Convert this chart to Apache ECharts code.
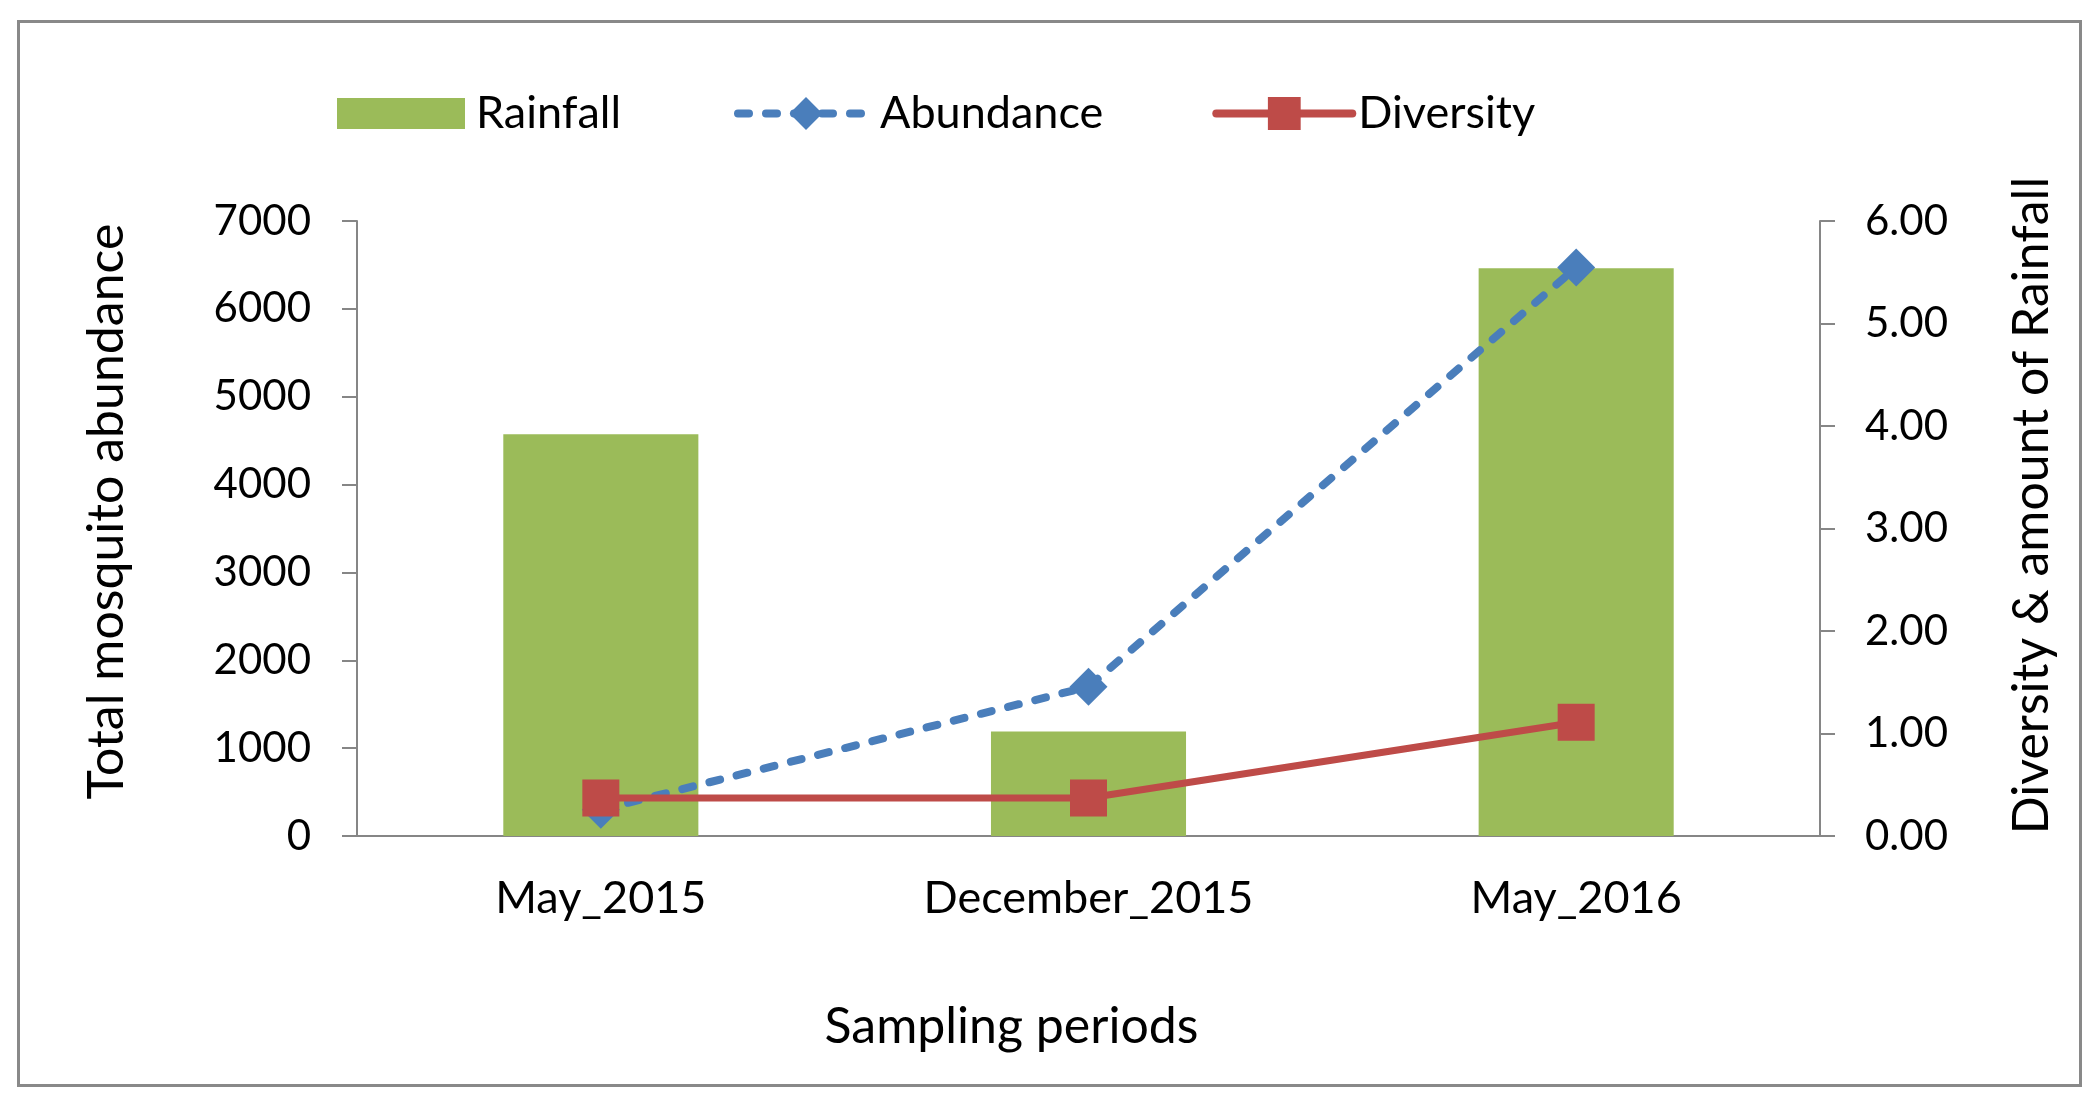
<!DOCTYPE html>
<html>
<head>
<meta charset="utf-8">
<script src="https://cdn.jsdelivr.net/npm/echarts@6/dist/echarts.min.js"></script>
<style>
html,body{margin:0;padding:0;background:#fff;}
#chart{width:2100px;height:1098px;}
</style>
</head>
<body>
<div id="chart"></div>
<script>
const categories = ['May_2015', 'December_2015', 'May_2016'];
const rainfall = [3.92, 1.02, 5.54];
const abundance = [300, 1700, 6470];
const diversity = [0.37, 0.37, 1.11];
const leftTicks = {min: 0, max: 7000, interval: 1000};
const rightTicks = {min: 0, max: 6, interval: 1};

const FONT = 'Lato';
const chart = echarts.init(document.getElementById('chart'));
const axisGray = '#868686';
const blue = '#4A7EBB';
const red = '#BE4B48';
const green = '#9BBB59';
const dash = [11, 17];
chart.setOption({
  backgroundColor: '#fff',
  animation: false,
  textStyle: {fontFamily: FONT, color: '#000'},
  graphic: [{
    type: 'rect', left: 16, top: 19, z: -10,
    shape: {width: 2062, height: 1064},
    style: {fill: 'none', stroke: '#898989', lineWidth: 3}
  }],
  legend: [{
    left: 332, top: 86,
    itemWidth: 128, itemHeight: 31,
    textStyle: {fontFamily: FONT, fontSize: 45, color: '#000', padding: [0, 0, 0, 6]},
    data: [{name: 'Rainfall', icon: 'rect'}]
  }, {
    left: 729, top: 86,
    itemWidth: 136, itemHeight: 41, itemGap: 109,
    textStyle: {fontFamily: FONT, fontSize: 45, color: '#000', padding: [0, 0, 0, 1]},
    data: [
      {name: 'Abundance', lineStyle: {width: 8, type: dash, cap: 'round', color: blue}},
      {name: 'Diversity', lineStyle: {width: 8, color: red, cap: 'round'}}
    ]
  }],
  grid: {left: 357, right: 280, top: 221, bottom: 262},
  xAxis: {
    type: 'category', data: categories,
    axisLine: {lineStyle: {color: axisGray, width: 2}},
    axisTick: {length: 16, lineStyle: {color: axisGray, width: 2}},
    axisLabel: {fontFamily: FONT, fontSize: 45, color: '#000', margin: 40},
    name: 'Sampling periods', nameLocation: 'middle', nameGap: 166,
    nameTextStyle: {fontFamily: FONT, fontSize: 50, color: '#000', padding: [0, 154, 0, 0]}
  },
  yAxis: [{
    type: 'value', position: 'left',
    min: leftTicks.min, max: leftTicks.max, interval: leftTicks.interval,
    splitLine: {show: false},
    axisLine: {show: true, lineStyle: {color: axisGray, width: 2}},
    axisTick: {show: true, length: 15, lineStyle: {color: axisGray, width: 2}},
    axisLabel: {fontFamily: FONT, fontSize: 42, color: '#000', margin: 46,
      formatter: v => String(v)},
    name: 'Total mosquito abundance', nameLocation: 'middle', nameGap: 225,
    nameTextStyle: {fontFamily: FONT, fontSize: 50, color: '#000', padding: [0, 0, 0, 34]}
  }, {
    type: 'value', position: 'right',
    min: rightTicks.min, max: rightTicks.max, interval: rightTicks.interval,
    splitLine: {show: false},
    axisLine: {show: true, lineStyle: {color: axisGray, width: 2}},
    axisTick: {show: true, length: 15, lineStyle: {color: axisGray, width: 2}},
    axisLabel: {fontFamily: FONT, fontSize: 42, color: '#000', margin: 45,
      formatter: v => v.toFixed(2)},
    name: 'Diversity & amount of Rainfall', nameLocation: 'middle', nameGap: 187,
    nameTextStyle: {fontFamily: FONT, fontSize: 50, color: '#000', padding: [0, 0, 0, 46]}
  }],
  series: [{
    name: 'Rainfall', type: 'bar', yAxisIndex: 1, data: rainfall,
    barWidth: '40%', itemStyle: {color: green}
  }, {
    name: 'Abundance', type: 'line', yAxisIndex: 0, data: abundance,
    symbol: 'diamond', symbolSize: 38,
    itemStyle: {color: blue},
    lineStyle: {color: blue, width: 8, type: dash, cap: 'round'}
  }, {
    name: 'Diversity', type: 'line', yAxisIndex: 1, data: diversity,
    symbol: 'rect', symbolSize: 37,
    itemStyle: {color: red},
    lineStyle: {color: red, width: 7}
  }]
});
</script>
</body>
</html>
